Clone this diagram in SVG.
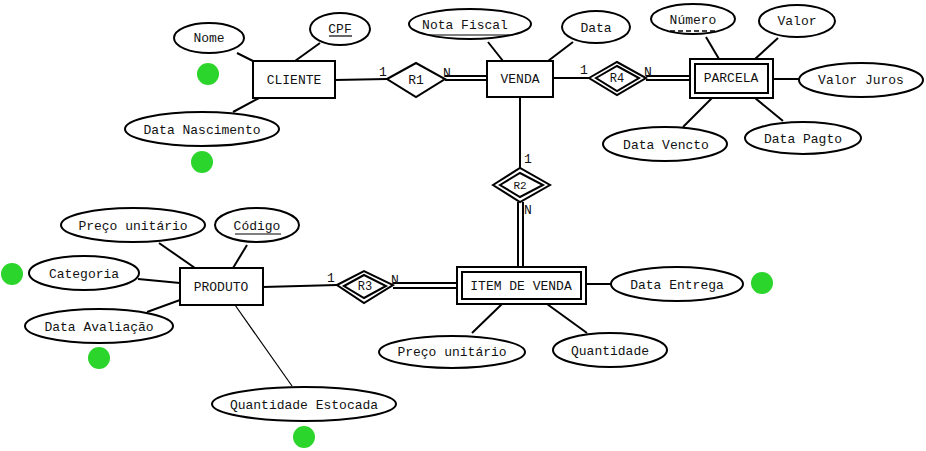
<svg xmlns="http://www.w3.org/2000/svg" width="926" height="451" viewBox="0 0 926 451">
  <style>
    .ent { fill: #fff; stroke: #000; stroke-width: 2; }
    .att { fill: #fff; stroke: #000; stroke-width: 2; }
    .rel { fill: #fff; stroke: #000; stroke-width: 2; }
    .ln { stroke: #000; stroke-width: 2; fill: none; }
    .thin { stroke: #000; stroke-width: 1.2; fill: none; }
    .dot { fill: #2bd52b; }
    text { font-family: "Liberation Mono", "Courier New", monospace; font-size: 13px; fill: #111; text-anchor: middle; }
    .card { font-size: 13px; text-anchor: start; }
    .rl { font-size: 12px; }
    .key { stroke: #000; stroke-width: 1.2; }
    .pkey { stroke: #000; stroke-width: 1.6; stroke-dasharray: 5 3; }
  </style>

  <rect width="926" height="451" fill="#fff"/>

  <!-- connectors -->
  <g id="connectors">
    <line class="ln" x1="237" y1="53" x2="253" y2="61"/>
    <line class="ln" x1="233" y1="112" x2="259" y2="98"/>
    <line class="ln" x1="320" y1="43" x2="295" y2="61"/>
    <line class="ln" x1="335" y1="80" x2="387" y2="79"/>
    <line class="ln" x1="445" y1="76" x2="487" y2="76"/>
    <line class="ln" x1="445" y1="80" x2="487" y2="80"/>
    <line class="ln" x1="488" y1="42" x2="503" y2="61"/>
    <line class="ln" x1="573" y1="42" x2="548" y2="61"/>
    <line class="ln" x1="553" y1="78" x2="589" y2="78"/>
    <line class="ln" x1="646" y1="76" x2="690" y2="76"/>
    <line class="ln" x1="646" y1="80" x2="690" y2="80"/>
    <line class="ln" x1="706" y1="37" x2="719" y2="59"/>
    <line class="ln" x1="778" y1="38" x2="755" y2="59"/>
    <line class="ln" x1="773" y1="79" x2="799" y2="79"/>
    <line class="ln" x1="683" y1="127" x2="712" y2="98"/>
    <line class="ln" x1="755" y1="98" x2="783" y2="121"/>
    <line class="ln" x1="520" y1="97" x2="520" y2="168"/>
    <line class="ln" x1="518" y1="202" x2="518" y2="267"/>
    <line class="ln" x1="523" y1="202" x2="523" y2="267"/>
    <line class="ln" x1="263" y1="287" x2="337" y2="285"/>
    <line class="ln" x1="393" y1="283" x2="457" y2="283"/>
    <line class="ln" x1="393" y1="288" x2="457" y2="288"/>
    <line class="ln" x1="586" y1="284" x2="611" y2="284"/>
    <line class="ln" x1="472" y1="333" x2="502" y2="304"/>
    <line class="ln" x1="547" y1="304" x2="587" y2="333"/>
    <line class="ln" x1="159" y1="243" x2="195" y2="268"/>
    <line class="ln" x1="247" y1="245" x2="233" y2="268"/>
    <line class="ln" x1="138" y1="279" x2="180" y2="283"/>
    <line class="ln" x1="147" y1="312" x2="180" y2="300"/>
    <line class="thin" x1="235" y1="305" x2="292" y2="386"/>
    <text class="card" x="379" y="76">1</text>
    <text class="card" x="443" y="77">N</text>
    <text class="card" x="580" y="74">1</text>
    <text class="card" x="644" y="76">N</text>
    <text class="card" x="524" y="163">1</text>
    <text class="card" x="524" y="214">N</text>
    <text class="card" x="327" y="282">1</text>
    <text class="card" x="391" y="284">N</text>
  </g>

  <!-- entities -->
  <g id="cliente">
    <rect class="ent" x="253" y="61" width="82" height="37"/>
    <text x="294" y="84">CLIENTE</text>
  </g>
  <g id="venda">
    <rect class="ent" x="487" y="61" width="66" height="36"/>
    <text x="520" y="83">VENDA</text>
  </g>
  <g id="parcela">
    <rect class="ent" x="690" y="59" width="83" height="39"/>
    <rect class="ent" x="695" y="64" width="73" height="29"/>
    <text x="731" y="82">PARCELA</text>
  </g>
  <g id="item-de-venda">
    <rect class="ent" x="457" y="267" width="129" height="37"/>
    <rect class="ent" x="462" y="272" width="119" height="27"/>
    <text x="521" y="290">ITEM DE VENDA</text>
  </g>
  <g id="produto">
    <rect class="ent" x="180" y="268" width="83" height="37"/>
    <text x="221" y="291">PRODUTO</text>
  </g>

  <!-- relationships -->
  <g id="r1">
    <polygon class="rel" points="387,79 416,63 445,79 416,97"/>
    <text x="416" y="84">R1</text>
  </g>
  <g id="r4">
    <polygon class="rel" points="589,78 617,62 646,78 617,95"/>
    <polygon class="rel" points="596,78 617,66 639,78 617,91"/>
    <text class="rl" x="617" y="82">R4</text>
  </g>
  <g id="r2">
    <polygon class="rel" points="493,185 520,168 550,185 520,202"/>
    <polygon class="rel" points="500,185 520,173 543,185 520,197"/>
    <text class="rl" x="520" y="189" style="font-size:11px">R2</text>
  </g>
  <g id="r3">
    <polygon class="rel" points="337,285 364,271 393,285 364,303"/>
    <polygon class="rel" points="344,286 364,275 386,286 364,298"/>
    <text class="rl" x="365" y="290">R3</text>
  </g>

  <!-- attributes -->
  <g id="att-nome">
    <ellipse class="att" cx="209" cy="38" rx="35" ry="15"/>
    <text x="209" y="42">Nome</text>
  </g>
  <g id="att-cpf">
    <ellipse class="att" cx="340" cy="29" rx="30" ry="16"/>
    <text x="340" y="33">CPF</text>
    <line class="key" x1="329" y1="36" x2="352" y2="36"/>
  </g>
  <g id="att-data-nascimento">
    <ellipse class="att" cx="202" cy="129" rx="77" ry="17"/>
    <text x="202" y="134">Data Nascimento</text>
  </g>
  <g id="att-nota-fiscal">
    <ellipse class="att" cx="470" cy="24" rx="61" ry="15"/>
    <text x="465" y="29">Nota Fiscal</text>
    <line class="key" x1="429" y1="35" x2="513" y2="35"/>
  </g>
  <g id="att-data">
    <ellipse class="att" cx="596" cy="27" rx="34" ry="16"/>
    <text x="596" y="32">Data</text>
  </g>
  <g id="att-numero">
    <ellipse class="att" cx="693" cy="19" rx="42" ry="15"/>
    <text x="693" y="24">Número</text>
    <line class="pkey" x1="670" y1="31" x2="716" y2="31"/>
  </g>
  <g id="att-valor">
    <ellipse class="att" cx="797" cy="21" rx="38" ry="16"/>
    <text x="797" y="25">Valor</text>
  </g>
  <g id="att-valor-juros">
    <ellipse class="att" cx="861" cy="80" rx="62" ry="17"/>
    <text x="861" y="84">Valor Juros</text>
  </g>
  <g id="att-data-vencto">
    <ellipse class="att" cx="665" cy="144" rx="62" ry="17"/>
    <text x="666" y="149">Data Vencto</text>
  </g>
  <g id="att-data-pagto">
    <ellipse class="att" cx="803" cy="138" rx="58" ry="16"/>
    <text x="803" y="143">Data Pagto</text>
  </g>
  <g id="att-preco-produto">
    <ellipse class="att" cx="133" cy="225" rx="72" ry="17"/>
    <text x="133" y="230">Preço unitário</text>
  </g>
  <g id="att-codigo">
    <ellipse class="att" cx="257" cy="225" rx="42" ry="17"/>
    <text x="257" y="230">Código</text>
    <line class="key" x1="235" y1="234" x2="281" y2="234"/>
  </g>
  <g id="att-categoria">
    <ellipse class="att" cx="84" cy="273" rx="55" ry="17"/>
    <text x="84" y="278">Categoria</text>
  </g>
  <g id="att-data-avaliacao">
    <ellipse class="att" cx="99" cy="326" rx="74" ry="17"/>
    <text x="99" y="331">Data Avaliação</text>
  </g>
  <g id="att-quantidade-estocada">
    <ellipse class="att" cx="304" cy="404" rx="92" ry="17"/>
    <text x="304" y="409">Quantidade Estocada</text>
  </g>
  <g id="att-preco-item">
    <ellipse class="att" cx="452" cy="352" rx="73" ry="16"/>
    <text x="452" y="356">Preço unitário</text>
  </g>
  <g id="att-quantidade">
    <ellipse class="att" cx="610" cy="350" rx="57" ry="17"/>
    <text x="610" y="355">Quantidade</text>
  </g>
  <g id="att-data-entrega">
    <ellipse class="att" cx="677" cy="284" rx="66" ry="17"/>
    <text x="677" y="289">Data Entrega</text>
  </g>

  <!-- green markers -->
  <g id="markers">
    <circle class="dot" cx="208" cy="74" r="11"/>
    <circle class="dot" cx="202" cy="162" r="11"/>
    <circle class="dot" cx="12" cy="274" r="11"/>
    <circle class="dot" cx="99" cy="358" r="11"/>
    <circle class="dot" cx="304" cy="437" r="11"/>
    <circle class="dot" cx="762" cy="283" r="11"/>
  </g>
</svg>
